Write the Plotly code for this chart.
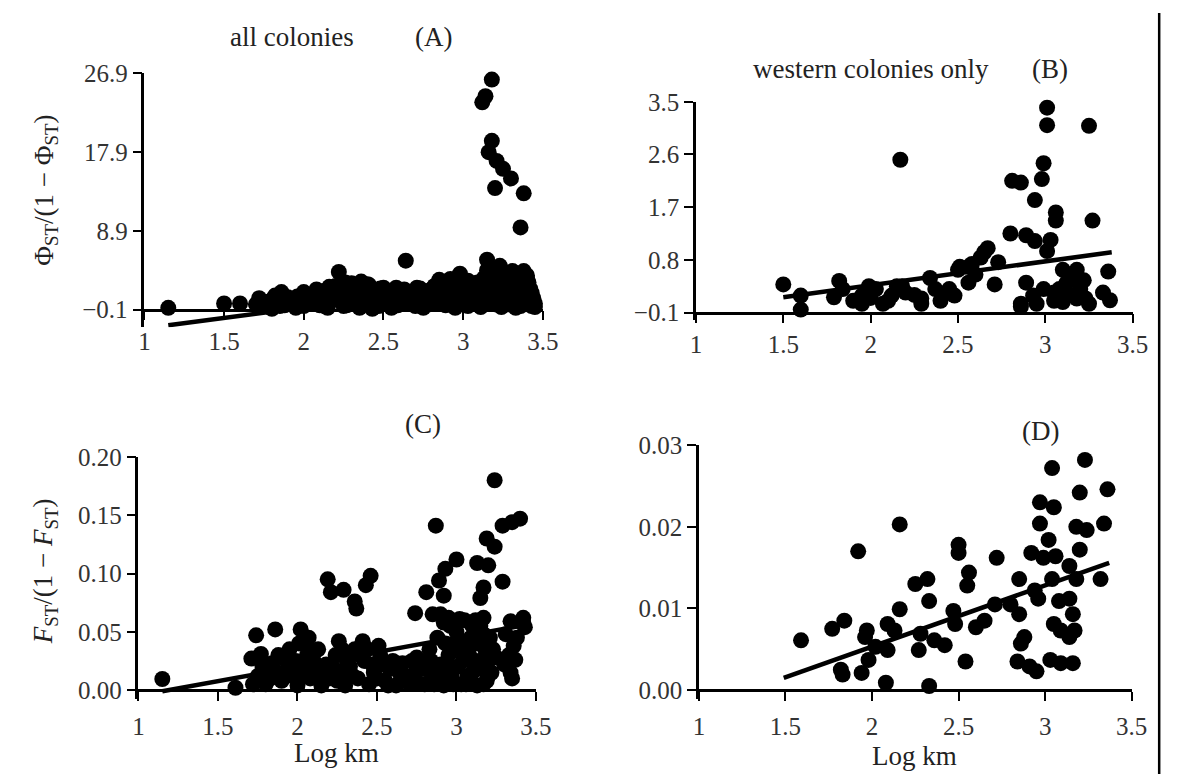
import plotly.graph_objects as go

W, H = 1185, 780

# ---------------- data ----------------
x_ticks = [1, 1.5, 2, 2.5, 3, 3.5]
x_ticktext = ["1", "1.5", "2", "2.5", "3", "3.5"]

# Panel A: all colonies, Phi_ST/(1-Phi_ST)
a_x = [1.15, 1.50, 1.60, 1.70, 1.72, 1.78, 1.82, 1.86, 1.88, 1.92, 1.96, 2.00, 2.02, 2.06,
       2.10, 2.13, 2.16, 2.18, 2.22, 2.24, 2.27, 2.30, 2.32, 2.35, 2.38, 2.41, 2.44, 2.47,
       2.50, 2.53, 2.56, 2.59, 2.64, 2.63, 2.67, 2.70, 2.73, 2.76, 2.79, 2.82, 2.85, 2.87,
       2.89, 2.92, 2.94, 2.96, 2.98, 3.00, 3.01, 3.03, 3.05, 3.07, 3.09, 3.11, 3.13, 3.15,
       3.16, 3.17, 3.19, 3.21, 3.23, 3.24, 3.26, 3.28, 3.29, 3.31, 3.33, 3.34, 3.36, 3.38,
       3.40, 3.39, 3.41, 3.43, 3.45, 3.33, 3.18, 2.95, 2.75, 2.55, 2.35, 2.15, 1.95,
       1.75, 1.80, 1.85, 1.90, 1.95, 2.00, 2.05, 2.10, 2.12, 2.20, 2.20, 2.25, 2.28, 2.33,
       2.38, 2.40, 2.45, 2.46, 2.50, 2.55, 2.57, 2.60, 2.62, 2.66, 2.70, 2.72, 2.77, 2.80,
       2.82, 2.85, 2.88, 2.90, 2.93, 2.96, 2.99, 3.00, 3.02, 3.04, 3.06, 3.08, 3.10, 3.12,
       3.14, 3.15, 3.17, 3.18, 3.20, 3.22, 3.24, 3.25, 3.27, 3.28, 3.30, 3.32, 3.35, 3.36,
       3.38, 3.40, 3.42, 3.44, 3.37, 3.26,
       1.80, 1.98, 2.08, 2.14, 2.26, 2.31, 2.36, 2.43, 2.48, 2.52, 2.58, 2.61, 2.68, 2.71,
       2.74, 2.78, 2.84, 2.86, 2.91, 2.97, 3.03, 3.06, 3.10, 3.13, 3.19, 3.21, 3.29, 3.31,
       3.34, 3.41, 3.43, 3.45,
       3.18, 3.14, 3.12, 3.18, 3.16, 3.21, 3.25, 3.30, 3.20, 3.38, 3.36]
a_y = [0.1, 0.6, 0.6, 0.5, 1.2, 0.8, 1.5, 1.9, 0.4, 0.9, 1.4, 1.9, 0.5, 1.1,
       1.6, 0.3, 2.5, 1.0, 4.2, 1.7, 0.4, 2.9, 1.2, 2.2, 0.5, 2.7, 1.4, 0.3,
       2.4, 1.0, 1.8, 0.4, 5.5, 2.2, 1.1, 0.3, 2.3, 1.2, 0.5, 2.6, 3.3, 1.5,
       0.4, 3.4, 2.0, 0.8, 4.0, 1.4, 2.8, 0.3, 2.2, 1.0, 3.0, 0.2, 1.8, 5.6,
       3.4, 0.6, 2.6, 1.4, 4.9, 0.2, 3.4, 2.0, 0.8, 4.3, 2.8, 1.3, 0.3, 2.0,
       3.8, 2.7, 0.9, 0.3, 0.2, 0.1, 1.0, 0.1, 0.1, 0.1, 0.1, 0.1, 0.1,
       0.3, 1.0, 0.3, 1.3, 0.8, 0.3, 1.5, 0.4, 2.0, 1.2, 2.6, 0.3, 2.0, 0.6,
       1.6, 2.8, 0.6, 2.0, 1.2, 0.5, 1.5, 1.9, 0.6, 1.4, 2.0, 0.7, 1.6, 2.2,
       0.6, 1.5, 2.6, 1.0, 2.7, 1.7, 3.2, 0.5, 1.9, 1.2, 0.6, 2.0, 1.2, 2.6,
       0.8, 4.4, 2.0, 3.6, 0.5, 3.0, 1.6, 4.3, 2.4, 0.5, 3.6, 1.8, 3.2, 1.2,
       4.3, 1.6, 2.3, 1.2, 0.6, 1.0,
       0.0, 1.0, 2.2, 1.3, 3.0, 1.9, 3.1, 0.0, 2.3, 1.7, 2.4, 1.1, 1.8, 2.4,
       1.0, 2.0, 2.3, 0.9, 1.8, 2.6, 3.2, 1.6, 2.4, 3.5, 4.5, 2.2, 2.8, 1.2,
       4.0, 3.0, 1.8, 0.6,
       26.2, 24.3, 23.6, 19.2, 17.9, 16.9, 16.0, 14.9, 13.8, 13.2, 9.3]
a_fit_x = [1.15, 3.45]
a_fit_y = [-1.9, 3.6]
a_yticks = [-0.1, 8.9, 17.9, 26.9]
a_yticktext = ["\u22120.1", "8.9", "17.9", "26.9"]

# Panel B: western colonies only, Phi_ST/(1-Phi_ST)
b_x = [2.17, 3.01, 3.01, 3.25, 2.99, 2.98, 2.81, 2.86, 2.94, 3.06, 3.06, 3.27, 2.80, 2.89,
       2.94, 3.03, 3.01, 2.67, 2.63, 2.73, 2.56, 2.51, 2.56, 2.71, 2.89, 3.18, 3.36, 3.10,
       3.14, 3.20, 3.05, 2.93, 2.86, 2.86, 2.99, 3.08, 3.23, 3.33, 3.37, 3.10, 3.18,
       1.50, 1.60, 1.60, 1.82, 1.84, 1.79, 1.95, 1.95, 2.03, 2.07, 2.12, 2.20, 2.29, 2.29,
       2.34, 2.37, 2.41, 2.48, 2.18, 1.99, 2.50, 2.58, 2.65,
       1.90, 2.00, 2.10, 2.25, 2.40, 2.45, 2.15, 2.60, 3.12, 3.15, 3.22, 3.05, 2.95, 3.25]
b_y = [2.51, 3.40, 3.10, 3.09, 2.45, 2.18, 2.15, 2.12, 1.82, 1.61, 1.47, 1.47, 1.25, 1.22,
       1.12, 1.14, 0.95, 1.00, 0.84, 0.76, 0.68, 0.68, 0.41, 0.38, 0.41, 0.63, 0.60, 0.63,
       0.46, 0.30, 0.24, 0.19, 0.05, 0.00, 0.30, 0.30, 0.14, 0.24, 0.11, 0.08, 0.14,
       0.38, 0.19, -0.05, 0.44, 0.30, 0.16, 0.19, 0.05, 0.30, 0.05, 0.19, 0.24, 0.14, 0.05,
       0.49, 0.30, 0.19, 0.19, 0.35, 0.35, 0.63, 0.73, 0.93,
       0.10, 0.15, 0.10, 0.20, 0.10, 0.30, 0.35, 0.55, 0.40, 0.20, 0.45, 0.10, 0.05, 0.05]
b_fit_x = [1.50, 3.38]
b_fit_y = [0.16, 0.93]
b_yticks = [-0.1, 0.8, 1.7, 2.6, 3.5]
b_yticktext = ["\u22120.1", "0.8", "1.7", "2.6", "3.5"]

# Panel C: all colonies, F_ST/(1-F_ST)
c_x = [1.15, 1.61, 3.24, 2.87, 3.35, 3.40, 3.29, 3.19, 3.24, 3.13, 3.20, 3.00, 2.93, 2.89,
       3.29, 2.81, 2.92, 3.17, 3.15, 2.74, 2.85, 2.95, 3.02, 3.17, 3.34, 3.42, 3.43, 3.31,
       3.36, 3.37, 3.34, 2.19, 2.21, 2.29, 2.36, 2.37, 2.43, 2.46, 1.74, 1.86, 1.71, 1.77,
       2.02, 2.05, 2.10, 1.84, 2.26, 2.41, 2.51, 2.31, 2.66, 2.75,
       1.75, 1.80, 1.85, 1.90, 1.93, 1.97, 2.00, 2.03, 2.06, 2.08, 2.12, 2.15, 2.18, 2.20,
       2.24, 2.27, 2.30, 2.33, 2.36, 2.38, 2.42, 2.45, 2.48, 2.52, 2.55, 2.58, 2.62, 2.65,
       2.70, 2.74, 2.78, 2.80, 2.83, 2.85, 2.88, 2.90, 2.92, 2.95, 2.97, 3.00, 3.01, 3.03,
       3.05, 3.07, 3.09, 3.11, 3.13, 3.15, 3.16, 3.18, 3.19, 3.21, 3.12, 3.22, 3.25, 3.05,
       2.96, 2.90,
       1.72, 1.78, 1.83, 1.88, 1.92, 1.95, 1.99, 2.01, 2.04, 2.07, 2.10, 2.13, 2.16, 2.22,
       2.25, 2.28, 2.31, 2.35, 2.39, 2.44, 2.47, 2.50, 2.54, 2.57, 2.60, 2.64, 2.68, 2.72,
       2.76, 2.80, 2.84, 2.86, 2.89, 2.93, 2.94, 2.98, 2.99, 3.02, 3.04, 3.06, 3.08, 3.10,
       3.12, 3.14, 3.17, 3.17, 3.20, 3.20, 3.23, 3.10, 3.00, 2.92, 3.33, 3.38, 3.42, 3.30,
       3.35]
c_y = [0.0095, 0.002, 0.180, 0.141, 0.144, 0.147, 0.141, 0.130, 0.123, 0.109, 0.107, 0.112,
       0.104, 0.094, 0.093, 0.084, 0.081, 0.088, 0.079, 0.066, 0.065, 0.062, 0.061, 0.062,
       0.059, 0.062, 0.054, 0.048, 0.038, 0.026, 0.015, 0.095, 0.084, 0.086, 0.076, 0.070,
       0.090, 0.098, 0.047, 0.052, 0.027, 0.031, 0.052, 0.040, 0.031, 0.023, 0.042, 0.042,
       0.038, 0.028, 0.023, 0.028,
       0.012, 0.005, 0.018, 0.008, 0.025, 0.012, 0.004, 0.020, 0.030, 0.010, 0.017, 0.004,
       0.022, 0.010, 0.030, 0.015, 0.004, 0.020, 0.035, 0.010, 0.025, 0.005, 0.015, 0.030,
       0.008, 0.018, 0.004, 0.012, 0.006, 0.015, 0.025, 0.005, 0.035, 0.012, 0.045, 0.022,
       0.004, 0.030, 0.012, 0.050, 0.020, 0.005, 0.035, 0.012, 0.045, 0.025, 0.004, 0.055,
       0.018, 0.035, 0.008, 0.045, 0.060, 0.015, 0.028, 0.060, 0.055, 0.065,
       0.005, 0.020, 0.010, 0.030, 0.015, 0.035, 0.025, 0.040, 0.012, 0.045, 0.025, 0.035,
       0.015, 0.020, 0.008, 0.035, 0.025, 0.012, 0.030, 0.035, 0.022, 0.010, 0.022, 0.004,
       0.025, 0.018, 0.012, 0.025, 0.006, 0.018, 0.025, 0.005, 0.015, 0.040, 0.022, 0.005,
       0.035, 0.042, 0.025, 0.005, 0.030, 0.015, 0.040, 0.025, 0.005, 0.048, 0.025, 0.012,
       0.035, 0.055, 0.058, 0.058, 0.030, 0.045, 0.058, 0.022, 0.010]
c_fit_x = [1.15, 3.40]
c_fit_y = [-0.001, 0.055]
c_yticks = [0, 0.05, 0.10, 0.15, 0.20]
c_yticktext = ["0.00", "0.05", "0.10", "0.15", "0.20"]

# Panel D: western colonies only, F_ST/(1-F_ST)
d_x = [1.59, 1.77, 1.84, 1.92, 2.16, 2.16, 1.82, 1.83, 1.94, 1.97, 1.96, 1.98, 2.02, 2.09,
       2.09, 2.08, 2.13, 2.25, 2.32, 2.33, 2.28, 2.27, 2.36, 2.42, 2.33, 2.50, 2.50, 2.56,
       2.55, 2.47, 2.48, 2.60, 2.65, 2.54, 2.72, 2.71, 2.80, 2.85, 2.85, 2.88, 2.86, 2.84,
       2.91, 2.95, 2.92, 2.96, 2.94, 2.97, 3.05, 2.97, 3.02, 2.99, 3.06, 3.04, 3.04, 3.23,
       3.20, 3.36, 3.18, 3.24, 3.34, 3.20, 3.14, 3.18, 3.32, 3.14, 3.08, 3.16, 3.05, 3.09,
       3.14, 3.17, 3.03, 3.09, 3.16]
d_y = [0.0061, 0.0075, 0.0085, 0.0170, 0.0203, 0.0099, 0.0025, 0.0019, 0.0021, 0.0073,
       0.0065, 0.0037, 0.0053, 0.0081, 0.0049, 0.0009, 0.0073, 0.0130, 0.0136, 0.0109,
       0.0069, 0.0049, 0.0061, 0.0055, 0.0005, 0.0178, 0.0168, 0.0144, 0.0128, 0.0097,
       0.0081, 0.0077, 0.0085, 0.0035, 0.0162, 0.0105, 0.0105, 0.0136, 0.0093, 0.0065,
       0.0057, 0.0035, 0.0029, 0.0023, 0.0168, 0.0112, 0.0122, 0.0230, 0.0224, 0.0204,
       0.0184, 0.0162, 0.0164, 0.0136, 0.0272, 0.0282, 0.0242, 0.0246, 0.0200, 0.0196,
       0.0204, 0.0172, 0.0152, 0.0136, 0.0136, 0.0112, 0.0109, 0.0093, 0.0081, 0.0073,
       0.0065, 0.0073, 0.0037, 0.0033, 0.0033]
d_fit_x = [1.49, 3.37]
d_fit_y = [0.0015, 0.0156]
d_yticks = [0, 0.01, 0.02, 0.03]
d_yticktext = ["0.00", "0.01", "0.02", "0.03"]

# ---------------- layout helpers (pixel geometry) ----------------
FONT = "Liberation Serif"
TICK_FONT = dict(family=FONT, size=25, color="#333333")
INK = "black"


def px_x(p):
    return p / W


def px_y(p):
    return 1 - p / H


def yrange(v_top, p_top, v_axis, p_axis, p_bottom):
    per_px = (v_top - v_axis) / (p_axis - p_top)
    return [v_axis - (p_bottom - p_axis) * per_px, v_top]


panels = [
    dict(n="", xs=a_x, ys=a_y, fx=a_fit_x, fy=a_fit_y, xd=(141, 547), vt=26.9, pt=62,
         va=-0.1, pa=304, pb=322, yt=a_yticks, ytt=a_yticktext, stand=0),
    dict(n="2", xs=b_x, ys=b_y, fx=b_fit_x, fy=b_fit_y, xd=(703, 1148), vt=3.5, pt=91,
         va=-0.1, pa=307, pb=315, yt=b_yticks, ytt=b_yticktext, stand=0),
    dict(n="3", xs=c_x, ys=c_y, fx=c_fit_x, fy=c_fit_y, xd=(135, 540), vt=0.20, pt=455,
         va=0.0, pa=694, pb=703, yt=c_yticks, ytt=c_yticktext, stand=4),
    dict(n="4", xs=d_x, ys=d_y, fx=d_fit_x, fy=d_fit_y, xd=(706, 1147), vt=0.03, pt=443,
         va=0.0, pa=694, pb=703, yt=d_yticks, ytt=d_yticktext, stand=4),
]

fig = go.Figure()
layout = dict(
    width=W, height=H, margin=dict(l=0, r=0, t=0, b=0),
    paper_bgcolor="white", plot_bgcolor="white", showlegend=False,
)

for p in panels:
    xa, ya = "x" + p["n"], "y" + p["n"]
    fig.add_trace(go.Scatter(
        x=p["fx"], y=p["fy"], xaxis=xa, yaxis=ya, mode="lines",
        line=dict(color=INK, width=4.5), hoverinfo="skip"))
    fig.add_trace(go.Scatter(
        x=p["xs"], y=p["ys"], xaxis=xa, yaxis=ya, mode="markers",
        marker=dict(color=INK, size=16, line=dict(width=0)), cliponaxis=False))
    layout["xaxis" + p["n"]] = dict(
        domain=[px_x(p["xd"][0]), px_x(p["xd"][1])], range=[1, 3.5],
        anchor="free", position=px_y(p["pa"]),
        tickvals=x_ticks, ticktext=x_ticktext, ticks="outside", ticklen=9,
        tickwidth=2.2, tickcolor=INK, showline=True, linewidth=2.5, linecolor=INK,
        showgrid=False, zeroline=False, tickfont=TICK_FONT,
        ticklabelstandoff=p["stand"], fixedrange=True)
    layout["yaxis" + p["n"]] = dict(
        domain=[px_y(p["pb"]), px_y(p["pt"])],
        range=yrange(p["vt"], p["pt"], p["va"], p["pa"], p["pb"]),
        anchor=xa, tickvals=p["yt"], ticktext=p["ytt"], ticks="outside", ticklen=9,
        tickwidth=2.2, tickcolor=INK, showline=True, linewidth=2.5, linecolor=INK,
        showgrid=False, zeroline=False, tickfont=TICK_FONT, fixedrange=True)

fig.update_layout(**layout)

TEXT_FONT = dict(family=FONT, size=27, color="#222222")
annots = [
    ("all colonies", 291, 25, 0),
    ("(A)", 436, 25, 0),
    ("western colonies only", 881, 57, 0),
    ("(B)", 1064, 57, 0),
    ("(C)", 425, 421, 0),
    ("(D)", 1054, 428, 0),
    ("Log km", 337, 758, 0),
    ("Log km", 926, 762, 0),
    ("\u03a6<sub>ST</sub>/(1 \u2212 \u03a6<sub>ST</sub>)", 40, 182, -90),
    ("<i>F</i><sub>ST</sub>/(1 \u2212 <i>F</i><sub>ST</sub>)", 40, 572, -90),
]
for text, x, y, ang in annots:
    fig.add_annotation(text=text, x=px_x(x), y=px_y(y), xref="paper", yref="paper",
                       xanchor="center", yanchor="middle", showarrow=False,
                       textangle=ang, font=TEXT_FONT)

# right-hand frame line of the original figure
fig.add_shape(type="line", xref="paper", yref="paper", x0=px_x(1175), x1=px_x(1175),
              y0=0, y1=1, line=dict(color=INK, width=2.5))

fig.write_html("out.html", config={"displayModeBar": False},
               post_script="document.body.style.margin='0';document.body.style.overflow='hidden';")
